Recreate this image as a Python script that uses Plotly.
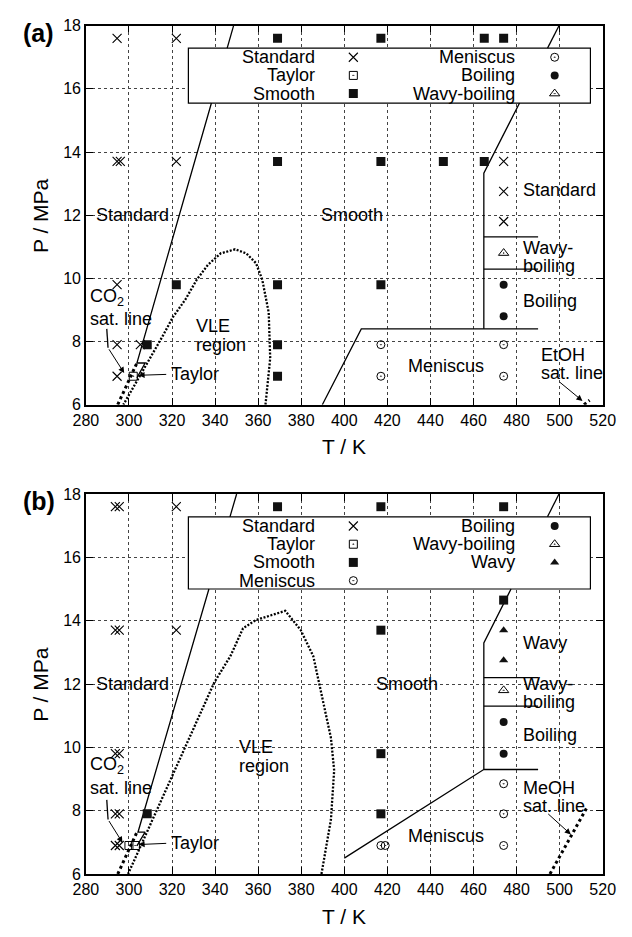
import plotly.graph_objects as go

# ---------------- data ----------------
T_RANGE = [280, 520]
P_RANGE = [6, 18]

# Panel (a) - CO2 / EtOH
std_a_T = [294.5, 322, 294.5, 296, 322, 294.5, 294.5, 294.5, 305.3, 474, 474, 474]
std_a_P = [17.6, 17.6, 13.7, 13.7, 13.7, 9.8, 7.9, 6.9, 7.9, 13.7, 12.75, 11.8]
smooth_a_T = [369, 417, 465, 474, 369, 417, 446, 465, 322, 369, 417, 308.5, 369, 369]
smooth_a_P = [17.6, 17.6, 17.6, 17.6, 13.7, 13.7, 13.7, 13.7, 9.8, 9.8, 9.8, 7.9, 7.9, 6.9]
taylor_a_T = [302]
taylor_a_P = [6.9]
menis_a_T = [417, 417, 474, 474]
menis_a_P = [7.9, 6.9, 7.9, 6.9]
boil_a_T = [474, 474]
boil_a_P = [9.8, 8.8]
wboil_a_T = [474]
wboil_a_P = [10.8]

# boundaries (a)
left_a_T = [348.6, 303.7, 307.5, 303.7]
left_a_P = [18.0, 7.32, 7.32, 6.85]
right_a_T = [499.7, 464.8, 464.8]
right_a_P = [18.0, 13.33, 8.4]
h1_a_T = [464.8, 490]; h1_a_P = [11.31, 11.31]
h2_a_T = [464.8, 490]; h2_a_P = [10.29, 10.29]
h3_a_T = [389.8, 407.9, 490]; h3_a_P = [6.0, 8.4, 8.4]
vle_a_T = [363.4, 365.6, 364.9, 361.9, 359.0, 354.5, 349.3, 342.6, 336.7, 331.5, 326.3,
           320.4, 315.9, 311.5, 305.5, 299.6, 297.4]
vle_a_P = [6.0, 7.47, 8.92, 9.96, 10.48, 10.79, 10.92, 10.79, 10.43, 9.96, 9.34,
           8.77, 8.2, 7.68, 6.96, 6.23, 6.0]
co2_T = [294.8, 304.1]
co2_P = [6.0, 7.38]
etoh_T = [511.3, 513.9]
etoh_P = [6.0, 6.14]

# Panel (b) - CO2 / MeOH
std_b_T = [293.7, 295.5, 322, 293.7, 295.5, 322, 293.7, 295.5, 293.7, 295.5, 293.7, 295.5]
std_b_P = [17.6, 17.6, 17.6, 13.7, 13.7, 13.7, 9.8, 9.8, 7.9, 7.9, 6.9, 6.9]
smooth_b_T = [369, 417, 474, 474, 417, 417, 417, 308.5]
smooth_b_P = [17.6, 17.6, 17.6, 14.65, 13.7, 9.8, 7.9, 7.9]
taylor_b_T = [300, 303]
taylor_b_P = [6.9, 6.9]
menis_b_T = [417, 419, 474, 474, 474]
menis_b_P = [6.9, 6.9, 8.85, 7.9, 6.9]
boil_b_T = [474, 474]
boil_b_P = [10.8, 9.8]
wboil_b_T = [474]
wboil_b_P = [11.8]
wavy_b_T = [474, 474]
wavy_b_P = [13.7, 12.75]

left_b_T = [350.0, 304.2, 307.5, 303.7]
left_b_P = [18.0, 7.32, 7.32, 6.89]
right_b_T = [499.7, 464.8, 464.8, 400.0]
right_b_P = [18.0, 13.3, 9.3, 6.5]
h1_b_T = [464.8, 490]; h1_b_P = [12.2, 12.2]
h2_b_T = [464.8, 490]; h2_b_P = [11.3, 11.3]
h3_b_T = [464.8, 490]; h3_b_P = [9.3, 9.3]
vle_b_T = [389.4, 393.8, 395.3, 393.8, 385.6, 379.7, 372.6, 358.9, 353.0, 347.1, 339.7, 299.6]
vle_b_P = [6.0, 7.72, 9.27, 10.3, 12.88, 13.71, 14.31, 14.02, 13.76, 12.88, 12.06, 6.0]
meoh_T = [495.5, 512.6]
meoh_P = [6.0, 8.09]

legend_a = [["Standard", "Taylor", "Smooth"], ["Meniscus", "Boiling", "Wavy-boiling"]]
legend_b = [["Standard", "Taylor", "Smooth", "Meniscus"], ["Boiling", "Wavy-boiling", "Wavy"]]

# ---------------- style ----------------
FONT = "Liberation Sans, Arial, Helvetica, sans-serif"
TXT = 18
MK = {
    "Standard": dict(symbol="x-thin", size=9, color="black", line=dict(width=1.1, color="black")),
    "Taylor": dict(symbol="square-open-dot", size=8, color="black", line=dict(width=1)),
    "Smooth": dict(symbol="square", size=9, color="#111111", line=dict(width=0)),
    "Meniscus": dict(symbol="circle-open-dot", size=8, color="black", line=dict(width=1)),
    "Boiling": dict(symbol="circle", size=8, color="#111111", line=dict(width=0)),
    "Wavy-boiling": dict(symbol="triangle-up-open-dot", size=9, color="black", line=dict(width=1)),
    "Wavy": dict(symbol="triangle-up", size=8, color="#111111", line=dict(width=0)),
}

W, H = 632, 937
X0, X1 = 76, 615
PANELS = {"a": (18, 404), "b": (495, 882)}


def clip_out(xs, ys, box):
    """Remove the parts of a polyline lying inside box=(x0,x1,y0,y1)."""
    bx0, bx1, by0, by1 = box
    ox, oy = [xs[0]], [ys[0]]
    for i in range(len(xs) - 1):
        xa, ya, xb, yb = xs[i], ys[i], xs[i + 1], ys[i + 1]
        dx, dy = xb - xa, yb - ya
        t0, t1, ok = 0.0, 1.0, True
        for p, q in ((-dx, xa - bx0), (dx, bx1 - xa), (-dy, ya - by0), (dy, by1 - ya)):
            if p == 0:
                if q < 0:
                    ok = False
                    break
            else:
                r = q / p
                if p < 0:
                    t0 = max(t0, r)
                else:
                    t1 = min(t1, r)
        if ok and t0 < t1:
            if t0 > 0:
                ox.append(xa + t0 * dx); oy.append(ya + t0 * dy)
            ox.append(None); oy.append(None)
            if t1 < 1:
                ox.append(xa + t1 * dx); oy.append(ya + t1 * dy)
                ox.append(xb); oy.append(yb)
        else:
            ox.append(xb); oy.append(yb)
    return ox, oy


fig = go.Figure()
annotations = []
shapes = []


def add_panel(key, xa, ya, data, legend_cols, box_P):
    xr, yr = xa, ya
    box = (327.6, 514.3, box_P[0], box_P[1])

    def line(T, P, width=1.3, dash="solid", clip=False):
        if clip:
            T, P = clip_out(T, P, box)
        fig.add_trace(go.Scatter(x=T, y=P, xaxis=xr, yaxis=yr, mode="lines",
                                 line=dict(color="black", width=width, dash=dash),
                                 showlegend=False, hoverinfo="skip", connectgaps=False))

    for T, P, kind in data["lines"]:
        if kind == "solid":
            line(T, P, clip=True)
        elif kind == "vle":
            line(T, P, width=2.3, dash="2px,1.6px")
        elif kind == "sat":
            line(T, P, width=3, dash="3px,3px")

    for name, T, P in data["markers"]:
        fig.add_trace(go.Scatter(x=T, y=P, xaxis=xr, yaxis=yr, mode="markers",
                                 marker=MK[name], showlegend=False, hoverinfo="skip"))

    # legend box
    ax_ref = "x" if xr == "x" else "x2"
    ay_ref = "y" if yr == "y" else "y2"
    shapes.append(dict(type="rect", xref=ax_ref, yref=ay_ref, x0=box[0], x1=box[1],
                       y0=box[2], y1=box[3], fillcolor="white",
                       line=dict(color="black", width=1.2), layer="between"))
    row_P0, row_dP = box_P[1] - 0.29, 0.575
    text_T = [387.2, 480.2]
    mark_T = [404.2, 497.7]
    for c, col in enumerate(legend_cols):
        for r, name in enumerate(col):
            P = row_P0 - r * row_dP
            annotations.append(dict(x=text_T[c], y=P, xref=ax_ref, yref=ay_ref, text=name,
                                    showarrow=False, xanchor="right", yanchor="middle",
                                    font=dict(size=TXT, family=FONT, color="black")))
            fig.add_trace(go.Scatter(x=[mark_T[c]], y=[P], xaxis=xr, yaxis=yr, mode="markers",
                                     marker=MK[name], showlegend=False, hoverinfo="skip"))

    for txt, T, P, anc in data["labels"]:
        annotations.append(dict(x=T, y=P, xref=ax_ref, yref=ay_ref, text=txt, showarrow=False,
                                xanchor=anc, yanchor="middle",
                                font=dict(size=TXT, family=FONT, color="black")))
    for (T0, P0), (T1, P1) in data["arrows"]:
        annotations.append(dict(x=T1, y=P1, ax=T0, ay=P0, xref=ax_ref, yref=ay_ref,
                                axref=ax_ref, ayref=ay_ref, text="", showarrow=True,
                                arrowhead=2, arrowsize=1.2, arrowwidth=1, arrowcolor="black"))


data_a = dict(
    lines=[(left_a_T, left_a_P, "solid"), (right_a_T, right_a_P, "solid"),
           (h1_a_T, h1_a_P, "solid"), (h2_a_T, h2_a_P, "solid"), (h3_a_T, h3_a_P, "solid"),
           (vle_a_T, vle_a_P, "vle"), (co2_T, co2_P, "sat"), (etoh_T, etoh_P, "sat"),
           ([289.7, 290.3], [8.4, 7.8], "solid")],
    markers=[("Standard", std_a_T, std_a_P), ("Smooth", smooth_a_T, smooth_a_P),
             ("Taylor", taylor_a_T, taylor_a_P), ("Meniscus", menis_a_T, menis_a_P),
             ("Boiling", boil_a_T, boil_a_P), ("Wavy-boiling", wboil_a_T, wboil_a_P)],
    labels=[("Standard", 301.6, 12.0, "center"), ("Smooth", 403.8, 12.0, "center"),
            ("VLE", 330.0, 8.49, "left"), ("region", 330.0, 7.89, "left"),
            ("Meniscus", 447.4, 7.21, "center"),
            ("CO<sub>2</sub>", 281.0, 9.4, "left"), ("sat. line", 281.0, 8.72, "left"),
            ("Taylor", 318.7, 6.96, "left"),
            ("Standard", 482.2, 12.8, "left"), ("Wavy-", 482.2, 10.95, "left"),
            ("boiling", 482.2, 10.4, "left"), ("Boiling", 482.2, 9.27, "left"),
            ("EtOH", 490.3, 7.58, "left"), ("sat. line", 490.3, 7.0, "left")],
    arrows=[((290.3, 7.8), (297.8, 7.0)), ((318.0, 6.96), (304.5, 6.93)),
            ((499.4, 6.75), (510.6, 6.12))],
)

data_b = dict(
    lines=[(left_b_T, left_b_P, "solid"), (right_b_T, right_b_P, "solid"),
           (h1_b_T, h1_b_P, "solid"), (h2_b_T, h2_b_P, "solid"), (h3_b_T, h3_b_P, "solid"),
           (vle_b_T, vle_b_P, "vle"), (co2_T, co2_P, "sat"), (meoh_T, meoh_P, "sat"),
           ([289.7, 290.3], [8.34, 7.72], "solid")],
    markers=[("Standard", std_b_T, std_b_P), ("Smooth", smooth_b_T, smooth_b_P),
             ("Taylor", taylor_b_T, taylor_b_P), ("Meniscus", menis_b_T, menis_b_P),
             ("Boiling", boil_b_T, boil_b_P), ("Wavy-boiling", wboil_b_T, wboil_b_P),
             ("Wavy", wavy_b_T, wavy_b_P)],
    labels=[("Standard", 301.6, 12.0, "center"), ("Smooth", 429.2, 12.0, "center"),
            ("VLE", 350.0, 10.0, "left"), ("region", 350.0, 9.42, "left"),
            ("Meniscus", 447.4, 7.2, "center"),
            ("CO<sub>2</sub>", 281.0, 9.42, "left"), ("sat. line", 281.0, 8.7, "left"),
            ("Taylor", 318.7, 6.97, "left"),
            ("Wavy", 482.2, 13.3, "left"), ("Wavy-", 482.2, 12.0, "left"),
            ("boiling", 482.2, 11.43, "left"), ("Boiling", 482.2, 10.4, "left"),
            ("MeOH", 482.2, 8.7, "left"), ("sat. line", 482.2, 8.15, "left")],
    arrows=[((290.3, 7.72), (297.0, 6.99)), ((318.0, 6.97), (304.5, 6.93)),
            ((494.0, 7.94), (505.2, 7.25))],
)

add_panel("a", "x", "y", data_a, legend_a, (15.55, 17.29))
add_panel("b", "x2", "y2", data_b, legend_b, (15.0, 17.28))

axis_common = dict(showline=True, linecolor="black", linewidth=1.5, mirror="allticks",
                   ticks="inside", ticklen=7, tickwidth=1.2, tickcolor="black",
                   showgrid=True, gridcolor="#444444", gridwidth=1, griddash="dot",
                   zeroline=False, tickfont=dict(size=16, family=FONT, color="black"))


def dom_y(top, bot):
    return [1 - bot / H, 1 - top / H]


xdom = [X0 / W, X1 / W]
fig.update_layout(
    width=W, height=H, margin=dict(l=0, r=0, t=0, b=0),
    paper_bgcolor="white", plot_bgcolor="white", showlegend=False,
    font=dict(family=FONT, color="black"),
    xaxis=dict(domain=xdom, anchor="y", range=T_RANGE, tick0=280, dtick=20, **axis_common),
    yaxis=dict(domain=dom_y(*PANELS["a"]), anchor="x", range=P_RANGE, tick0=6, dtick=2,
               **axis_common),
    xaxis2=dict(domain=xdom, anchor="y2", range=T_RANGE, tick0=280, dtick=20, **axis_common),
    yaxis2=dict(domain=dom_y(*PANELS["b"]), anchor="x2", range=P_RANGE, tick0=6, dtick=2,
                **axis_common),
)

# axis titles & panel labels
for key, lab in (("a", "(a)"), ("b", "(b)")):
    top, bot = PANELS[key]
    annotations.append(dict(x=(X0 + X1) / 2 / W, y=1 - (bot + 43) / H, xref="paper", yref="paper",
                            text="T / K", showarrow=False, xanchor="center", yanchor="middle",
                            font=dict(size=21, family=FONT, color="black")))
    annotations.append(dict(x=28 / W, y=1 - (top + bot) / 2 / H, xref="paper", yref="paper",
                            text="P / MPa", textangle=-90, showarrow=False, xanchor="center",
                            yanchor="middle", font=dict(size=21, family=FONT, color="black")))
    annotations.append(dict(x=27 / W, y=1 - (top + 7) / H, xref="paper", yref="paper",
                            text="<b>" + lab + "</b>", showarrow=False, xanchor="center",
                            yanchor="middle", font=dict(size=25, family=FONT, color="black")))

fig.update_layout(annotations=annotations, shapes=shapes)
fig.write_html("out.html")
